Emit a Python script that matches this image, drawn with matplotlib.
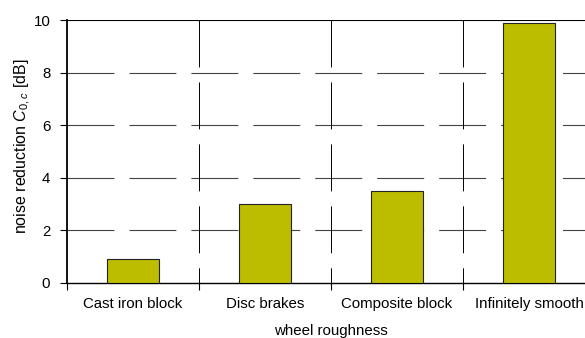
import matplotlib
matplotlib.use("Agg")
import matplotlib.pyplot as plt
import numpy as np

plt.rcParams['font.family'] = ['Liberation Sans', 'DejaVu Sans']
plt.rcParams['mathtext.fontset'] = 'custom'
plt.rcParams['mathtext.rm'] = 'Liberation Sans'
plt.rcParams['mathtext.it'] = 'Liberation Sans:italic'
plt.rcParams['lines.scale_dashes'] = False

# wheel roughness cases and the noise reduction for each
categories = ['Cast iron block', 'Disc brakes', 'Composite block', 'Infinitely smooth']
reduction_db = [0.9, 3.0, 3.5, 9.9]
y_ticks = [0, 2, 4, 6, 8, 10]

fig = plt.figure(figsize=(5.85, 3.38), dpi=100)
# plot area runs a little past the right edge of the figure
ax = fig.add_axes([67 / 585, 1 - 283 / 338, 528 / 585, 263 / 338])

x = np.arange(len(categories))
ax.set_xlim(-0.5, len(categories) - 0.5)
ax.set_ylim(0, 10)

# long-dash grid, solid line along the top
dash = (0, (33.8, 10.8))
for yv in y_ticks[1:-1]:
    ax.axhline(yv, xmin=0, xmax=1, color='#444444', lw=0.8, linestyle=dash, zorder=1)
ax.axhline(10, color='black', lw=0.8, zorder=1)
for xb in np.arange(0.5, len(categories) - 0.5, 1.0):
    ax.axvline(xb, ymin=1, ymax=0, color='black', lw=0.7, linestyle=dash, zorder=1)

ax.bar(x, reduction_db, width=0.4, color='#BDBD00', edgecolor='#222222', lw=0.8, zorder=3)

for side in ['top', 'right']:
    ax.spines[side].set_visible(False)
ax.spines['left'].set_linewidth(1.3)
ax.spines['bottom'].set_linewidth(1.0)

ax.set_yticks(y_ticks)
ax.tick_params(axis='y', direction='out', length=5, width=0.8, pad=7, labelsize=10.8)

# labels under the bars, tick marks between categories
ax.set_xticks(x)
ax.set_xticklabels(categories)
ax.set_xticks(np.arange(-0.5, len(categories), 1.0), minor=True)
ax.tick_params(axis='x', which='major', length=0, pad=10, labelsize=10.8)
ax.tick_params(axis='x', which='minor', direction='out', length=5, width=0.8)

ax.set_xlabel('wheel roughness', fontsize=10.8, labelpad=9.5)
ax.set_ylabel(r'noise reduction $C_{0,c}$ [dB]', fontsize=11.5)
ax.yaxis.set_label_coords(-0.0644, 0.52)

fig.savefig('out.png', dpi=100)
